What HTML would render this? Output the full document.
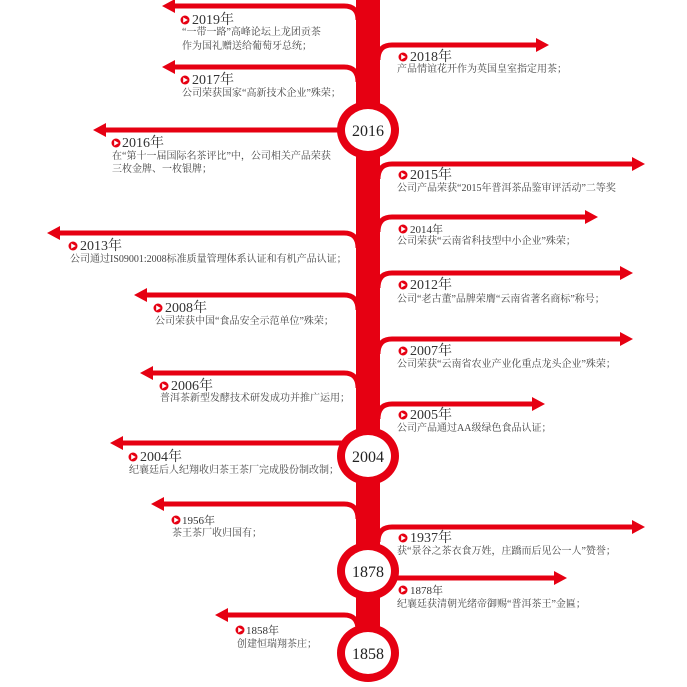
<!DOCTYPE html>
<html><head><meta charset="utf-8"><style>
html,body{margin:0;padding:0;background:#fff;}
svg{display:block;}
.y{font-family:"Liberation Serif","Noto Serif CJK SC",serif;font-size:14px;fill:#333;}
.ys{font-family:"Liberation Serif","Noto Serif CJK SC",serif;font-size:11px;fill:#333;}
.b{font-family:"Liberation Serif","Noto Serif CJK SC",serif;font-size:10px;fill:#444;}
.c{font-family:"Liberation Serif",serif;font-size:16px;fill:#222;text-anchor:middle;}
</style></head><body>
<svg width="687" height="687" viewBox="0 0 687 687" xmlns="http://www.w3.org/2000/svg">
<defs>
<g id="ic"><circle r="4.5" fill="#e60012"/><polygon points="-1.8,-2.6 2.8,0 -1.8,2.6" fill="#fff"/></g>
</defs>
<g fill="none" stroke="#e60012" stroke-width="5">
<!-- left branches -->
<path d="M358 20 Q358 6 344 6 L172 6"/>
<path d="M358 82 Q358 67 344 67 L172 67"/>
<path d="M345 130 L103 130"/>
<path d="M358 248 Q358 233 344 233 L57 233"/>
<path d="M358 310 Q358 295 344 295 L144 295"/>
<path d="M358 388 Q358 373 344 373 L150 373"/>
<path d="M345 443 L120 443"/>
<path d="M358 519 Q358 504 344 504 L161 504"/>
<path d="M358 630 Q358 615 344 615 L225 615"/>
<!-- right branches -->
<path d="M378 60 Q378 45 392 45 L539 45"/>
<path d="M378 179 Q378 164 392 164 L635 164"/>
<path d="M378 232 Q378 217 392 217 L588 217"/>
<path d="M378 288 Q378 273 392 273 L623 273"/>
<path d="M378 354 Q378 339 392 339 L623 339"/>
<path d="M378 419 Q378 404 392 404 L535 404"/>
<path d="M378 542 Q378 527 392 527 L635 527"/>
<path d="M392 578 L557 578"/>
</g>
<g fill="#e60012">
<polygon points="162,6 175,-1 175,13"/>
<polygon points="162,67 175,60 175,74"/>
<polygon points="93,130 106,123 106,137"/>
<polygon points="47,233 60,226 60,240"/>
<polygon points="134,295 147,288 147,302"/>
<polygon points="140,373 153,366 153,380"/>
<polygon points="110,443 123,436 123,450"/>
<polygon points="151,504 164,497 164,511"/>
<polygon points="215,615 228,608 228,622"/>
<polygon points="549,45 536,38 536,52"/>
<polygon points="645,164 632,157 632,171"/>
<polygon points="598,217 585,210 585,224"/>
<polygon points="633,273 620,266 620,280"/>
<polygon points="633,339 620,332 620,346"/>
<polygon points="545,404 532,397 532,411"/>
<polygon points="645,527 632,520 632,534"/>
<polygon points="567,578 554,571 554,585"/>
<!-- trunk -->
<rect x="356" y="0" width="24" height="650"/>
<ellipse cx="368" cy="130" rx="31" ry="29"/>
<ellipse cx="368" cy="456" rx="31" ry="29"/>
<ellipse cx="368" cy="571" rx="31" ry="29"/>
<ellipse cx="368" cy="653" rx="31" ry="29"/>
</g>
<g fill="#fff">
<ellipse cx="368" cy="130" rx="23" ry="21"/>
<ellipse cx="368" cy="456" rx="23" ry="21"/>
<ellipse cx="368" cy="571" rx="23" ry="21"/>
<ellipse cx="368" cy="653" rx="23" ry="21"/>
</g>
<text class="c" x="368" y="136">2016</text>
<text class="c" x="368" y="462">2004</text>
<text class="c" x="368" y="577">1878</text>
<text class="c" x="368" y="659">1858</text>

<!-- left texts -->
<use href="#ic" x="185" y="20"/><text class="y" x="192" y="24">2019年</text>
<text class="b" x="182" y="35">“一带一路”高峰论坛上龙团贡茶</text>
<text class="b" x="182" y="49">作为国礼赠送给葡萄牙总统；</text>
<use href="#ic" x="185" y="80"/><text class="y" x="192" y="84">2017年</text>
<text class="b" x="182" y="96">公司荣获国家“高新技术企业”殊荣；</text>
<use href="#ic" x="116" y="143"/><text class="y" x="122" y="147">2016年</text>
<text class="b" x="112" y="159">在“第十一届国际名茶评比”中，公司相关产品荣获</text>
<text class="b" x="112" y="172">三枚金牌、一枚银牌；</text>
<use href="#ic" x="73" y="246"/><text class="y" x="80" y="250">2013年</text>
<text class="b" x="70" y="262">公司通过IS09001:2008标准质量管理体系认证和有机产品认证；</text>
<use href="#ic" x="158" y="308"/><text class="y" x="165" y="312">2008年</text>
<text class="b" x="155" y="324">公司荣获中国“食品安全示范单位”殊荣；</text>
<use href="#ic" x="164" y="386"/><text class="y" x="171" y="390">2006年</text>
<text class="b" x="160" y="401">普洱茶新型发酵技术研发成功并推广运用；</text>
<use href="#ic" x="133" y="457"/><text class="y" x="140" y="461">2004年</text>
<text class="b" x="129" y="473">纪襄廷后人纪翔收归茶王茶厂完成股份制改制；</text>
<use href="#ic" x="176" y="520"/><text class="ys" x="182" y="524">1956年</text>
<text class="b" x="172" y="536">茶王茶厂收归国有；</text>
<use href="#ic" x="240" y="630"/><text class="ys" x="246" y="634">1858年</text>
<text class="b" x="237" y="647">创建恒瑞翔茶庄；</text>

<!-- right texts -->
<use href="#ic" x="403" y="57"/><text class="y" x="410" y="61">2018年</text>
<text class="b" x="397" y="72">产品情谊花开作为英国皇室指定用茶；</text>
<use href="#ic" x="403" y="175"/><text class="y" x="410" y="179">2015年</text>
<text class="b" x="397" y="191">公司产品荣获“2015年普洱茶品鉴审评活动”二等奖</text>
<use href="#ic" x="403" y="229"/><text class="ys" x="410" y="233">2014年</text>
<text class="b" x="397" y="244">公司荣获“云南省科技型中小企业”殊荣；</text>
<use href="#ic" x="403" y="285"/><text class="y" x="410" y="289">2012年</text>
<text class="b" x="397" y="302">公司“老古董”品牌荣膺“云南省著名商标”称号；</text>
<use href="#ic" x="403" y="351"/><text class="y" x="410" y="355">2007年</text>
<text class="b" x="397" y="367">公司荣获“云南省农业产业化重点龙头企业”殊荣；</text>
<use href="#ic" x="403" y="415"/><text class="y" x="410" y="419">2005年</text>
<text class="b" x="397" y="431">公司产品通过AA级绿色食品认证；</text>
<use href="#ic" x="403" y="538"/><text class="y" x="410" y="542">1937年</text>
<text class="b" x="397" y="554">获“景谷之茶衣食万姓，庄蹻而后见公一人”赞誉；</text>
<use href="#ic" x="403" y="590"/><text class="ys" x="410" y="594">1878年</text>
<text class="b" x="397" y="607">纪襄廷获清朝光绪帝御赐“普洱茶王”金匾；</text>
</svg>
</body></html>
